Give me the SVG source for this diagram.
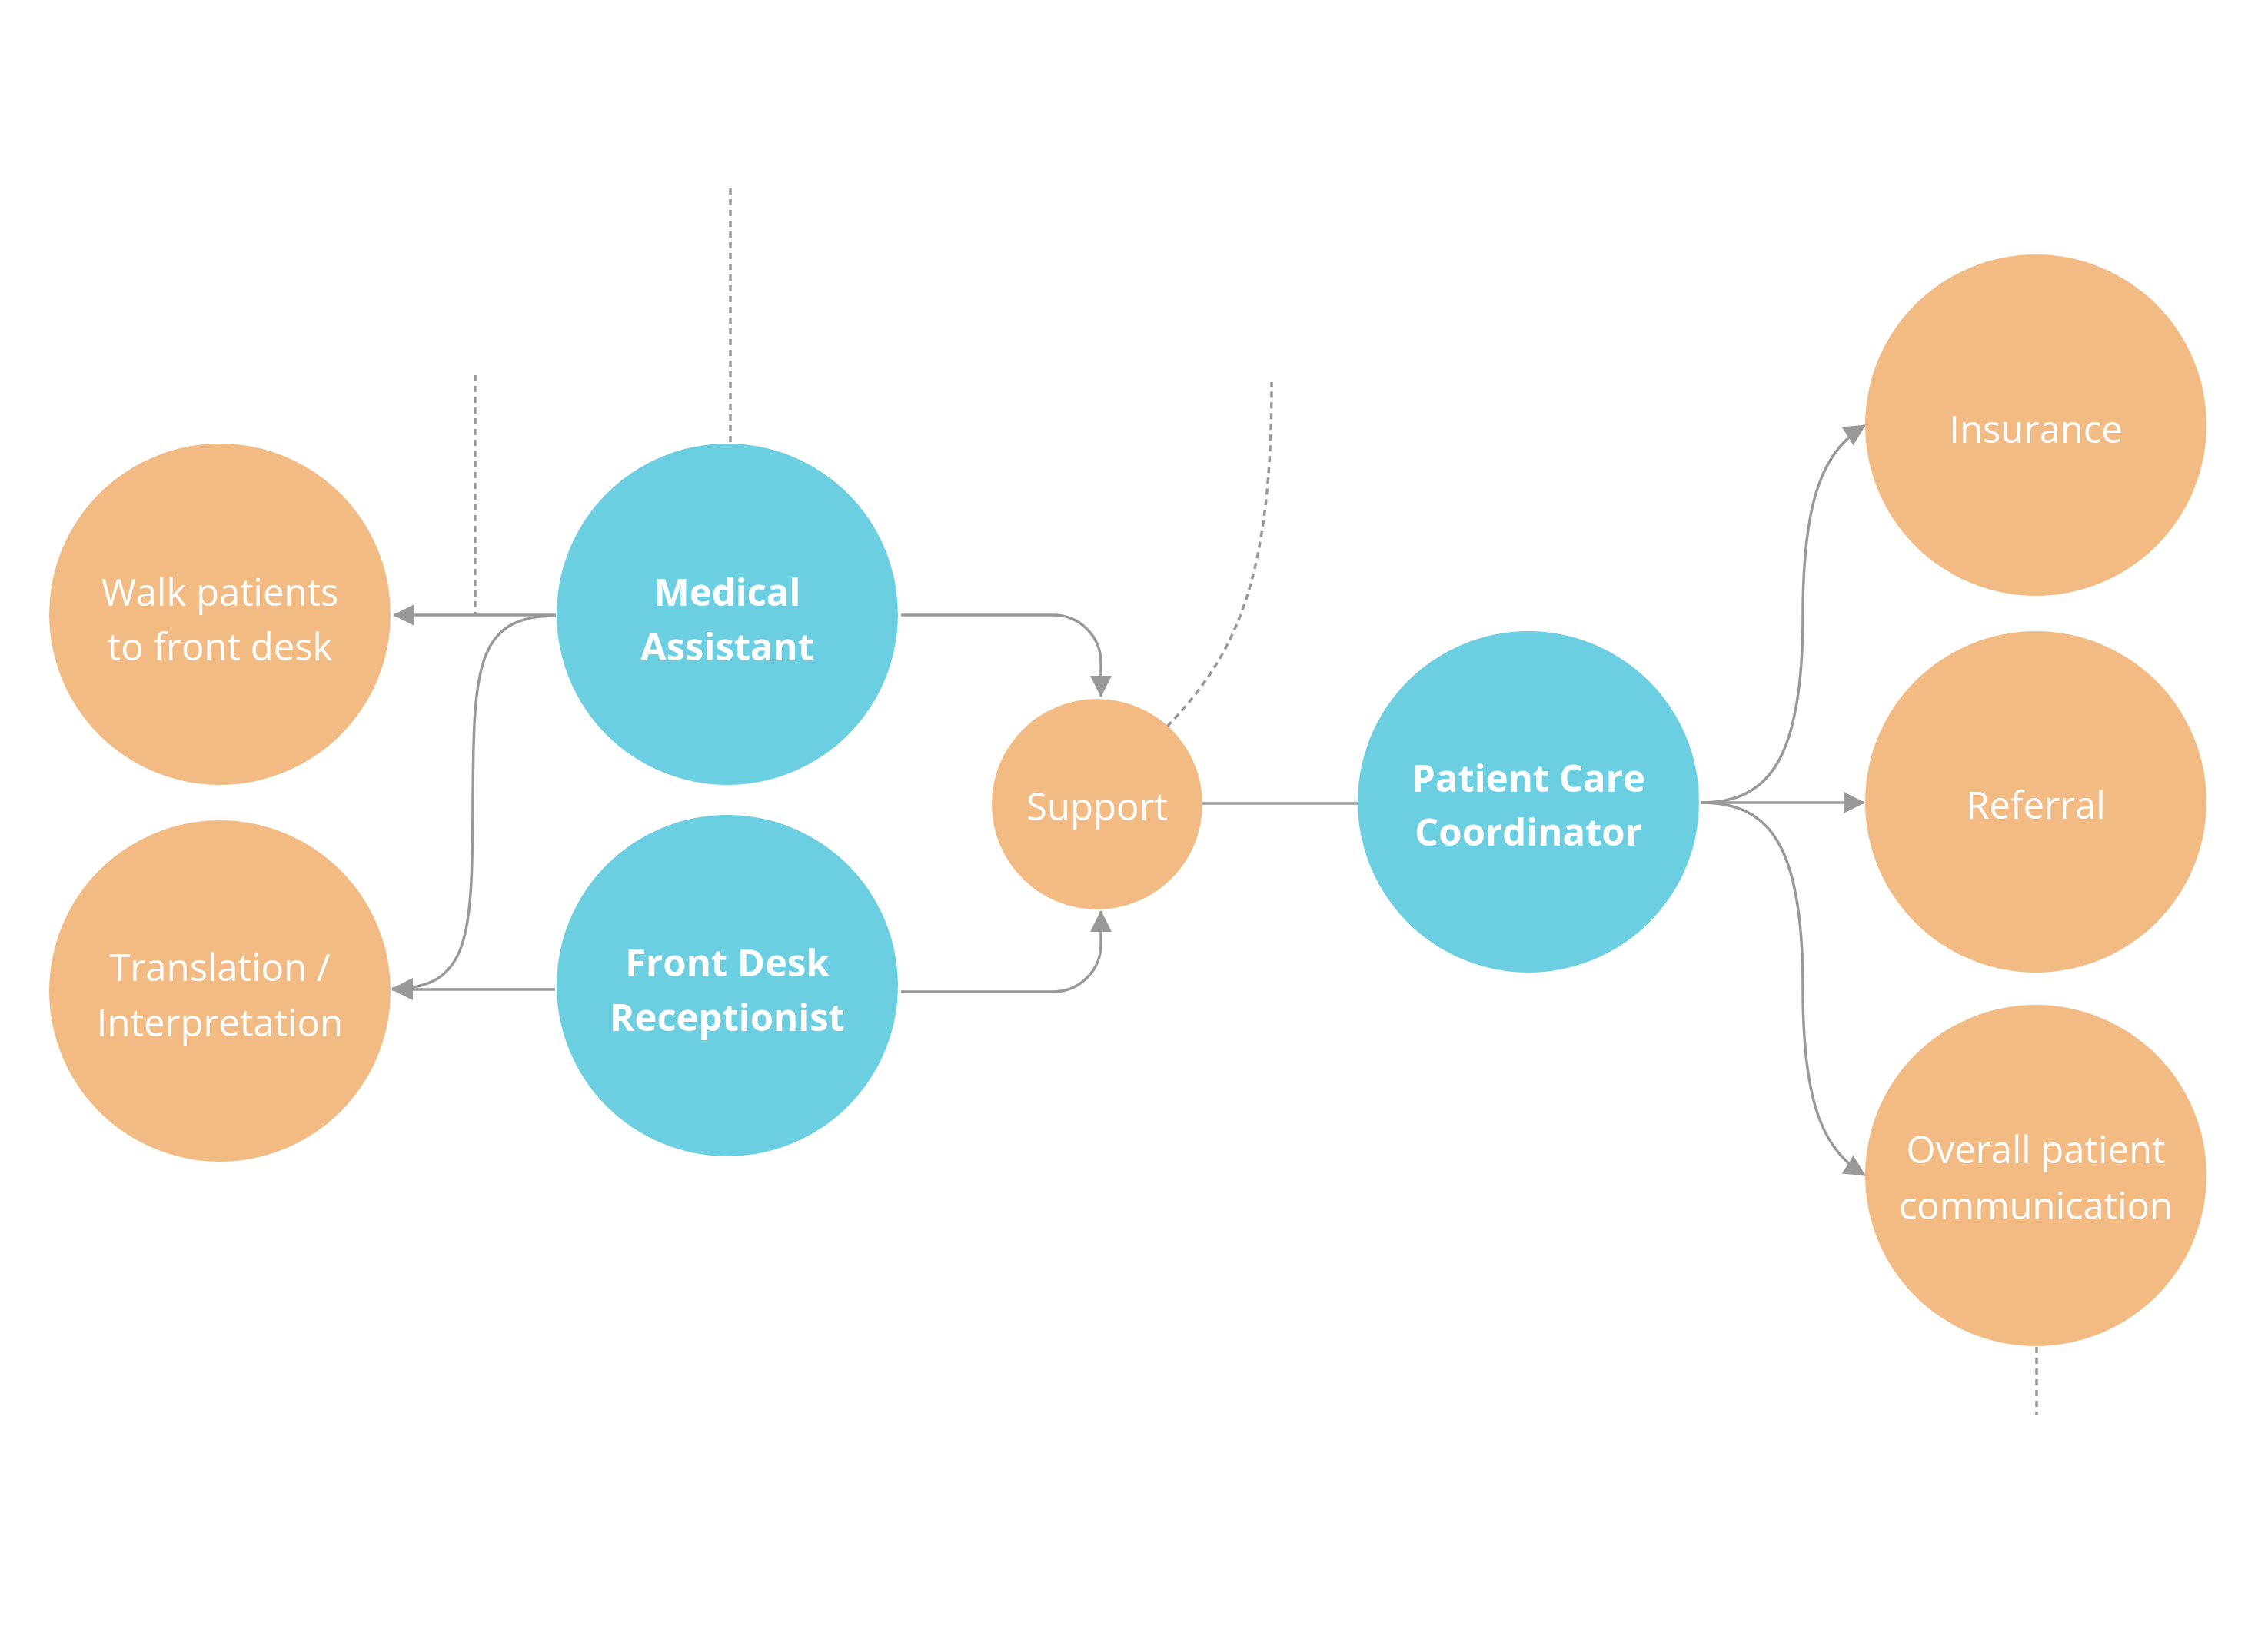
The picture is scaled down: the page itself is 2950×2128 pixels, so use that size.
<svg xmlns="http://www.w3.org/2000/svg" width="2950" height="2128" viewBox="0 0 2950 2128">
<defs>
<style>
.o{fill:#F2BB83}
.b{fill:#6CCFE1}
.t{font-family:"Open Sans","Liberation Sans",sans-serif;font-size:49px;fill:#FFFFFF;text-anchor:middle;font-weight:400}
.tb{font-family:"Open Sans","Liberation Sans",sans-serif;font-size:49px;fill:#FFFFFF;text-anchor:middle;font-weight:700}
.c{fill:none;stroke:#999999;stroke-width:3.5}
.d{fill:none;stroke:#999999;stroke-width:3.5;stroke-dasharray:8 6}
</style>
<marker id="ah" viewBox="0 0 28 28" refX="27" refY="14" markerWidth="28" markerHeight="28" markerUnits="userSpaceOnUse" orient="auto">
<path d="M0,0 L28,14 L0,28 Z" fill="#999999"/>
</marker>
</defs>
<rect width="2950" height="2128" fill="#FFFFFF"/>
<g id="connectors">
<path class="c" d="M723,800 H512" marker-end="url(#ah)"/>
<path class="c" d="M723,801 C618,801 616,870 615,1044 S612,1286 510,1286" marker-end="url(#ah)"/>
<path class="c" d="M722,1287 H510" marker-end="url(#ah)"/>
<path class="c" d="M1172,800 H1370 A62,62 0 0 1 1432,862 V906" marker-end="url(#ah)"/>
<path class="c" d="M1172,1290 H1370 A62,62 0 0 0 1432,1228 V1185" marker-end="url(#ah)"/>
<path class="c" d="M1564,1045 H1766"/>
<path class="c" d="M2212,1044 H2425" marker-end="url(#ah)"/>
<path class="c" d="M2212,1044 C2300,1044 2345,990 2345,800 C2345,640 2375,585 2426,553" marker-end="url(#ah)"/>
<path class="c" d="M2212,1044 C2300,1044 2345,1095 2345,1285 C2345,1445 2375,1497 2426,1529" marker-end="url(#ah)"/>
<path class="d" d="M618,488 V800"/>
<path class="d" d="M950,245 V577"/>
<path class="d" d="M1518,945 C1610,850 1654,750 1654,497"/>
<path class="d" d="M2649,1752 V1840"/>
</g>
<g id="walk-patients">
<circle class="o" cx="286" cy="799" r="222"/>
<text class="t" x="286" y="788">Walk patients</text>
<text class="t" x="286" y="859">to front desk</text>
</g>
<g id="translation">
<circle class="o" cx="286" cy="1289" r="222"/>
<text class="t" x="286" y="1276">Translation /</text>
<text class="t" x="286" y="1348">Interpretation</text>
</g>
<g id="medical-assistant">
<circle class="b" cx="946" cy="799" r="222"/>
<text class="tb" x="946" y="788">Medical</text>
<text class="tb" x="946" y="859">Assistant</text>
</g>
<g id="front-desk">
<circle class="b" cx="946" cy="1282" r="222"/>
<text class="tb" x="946" y="1270">Front Desk</text>
<text class="tb" x="946" y="1341">Receptionist</text>
</g>
<g id="support">
<circle class="o" cx="1427" cy="1046" r="137"/>
<text class="t" x="1427" y="1067">Support</text>
</g>
<g id="patient-care-coordinator">
<circle class="b" cx="1988" cy="1043" r="222"/>
<text class="tb" x="1988" y="1030">Patient Care</text>
<text class="tb" x="1988" y="1100">Coordinator</text>
</g>
<g id="insurance">
<circle class="o" cx="2648" cy="553" r="222"/>
<text class="t" x="2648" y="576">Insurance</text>
</g>
<g id="referral">
<circle class="o" cx="2648" cy="1043" r="222"/>
<text class="t" x="2648" y="1065">Referral</text>
</g>
<g id="overall">
<circle class="o" cx="2648" cy="1529" r="222"/>
<text class="t" x="2648" y="1513">Overall patient</text>
<text class="t" x="2648" y="1586">communication</text>
</g>
</svg>
